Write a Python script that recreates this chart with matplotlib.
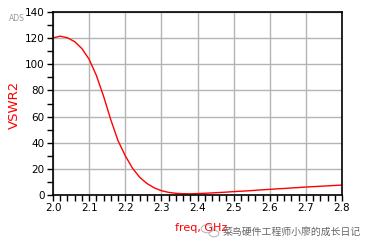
import matplotlib
matplotlib.use("Agg")
import matplotlib.pyplot as plt
from matplotlib.ticker import MultipleLocator
from matplotlib.patches import Circle

plt.rcParams['font.family'] = ['DejaVu Sans', 'Noto Sans CJK SC']

# frequency sweep (GHz) and VSWR
freq = [2.00, 2.02, 2.04, 2.06, 2.08, 2.10, 2.12, 2.14, 2.16, 2.18,
        2.20, 2.22, 2.24, 2.26, 2.28, 2.30, 2.32, 2.34, 2.36, 2.38,
        2.40, 2.42, 2.44, 2.46, 2.48, 2.50, 2.52, 2.54, 2.56, 2.58,
        2.60, 2.62, 2.64, 2.66, 2.68, 2.70, 2.72, 2.74, 2.76, 2.78, 2.80]
vswr2 = [120.2, 121.5, 120.3, 117.3, 112.0, 103.8, 91.5, 75.5, 57.5, 41.5,
         30.0, 20.5, 13.5, 8.8, 5.5, 3.3, 2.0, 1.3, 1.0, 0.9,
         1.1, 1.3, 1.6, 1.9, 2.2, 2.6, 2.9, 3.2, 3.6, 4.0,
         4.3, 4.7, 5.0, 5.4, 5.7, 6.1, 6.4, 6.7, 7.0, 7.3, 7.6]

fig = plt.figure(figsize=(3.72, 2.5), dpi=100, facecolor='white')
ax = fig.add_axes([0.1425, 0.22, 0.777, 0.732])

ax.plot(freq, vswr2, color='red', lw=1.0)

ax.set_xlim(2.0, 2.8)
ax.set_ylim(0, 140)
ax.xaxis.set_major_locator(MultipleLocator(0.1))
ax.xaxis.set_minor_locator(MultipleLocator(0.02))
ax.yaxis.set_major_locator(MultipleLocator(20))
ax.yaxis.set_minor_locator(MultipleLocator(10))
ax.tick_params(which='both', direction='out', length=4, width=1, color='black',
               labelsize=7.5, pad=2)
ax.grid(True, which='major', color='#b4b4b4', lw=1)
ax.set_axisbelow(True)
for s in ax.spines.values():
    s.set_color('black')
    s.set_linewidth(1.2)

# labels
fig.text(0.038, 0.58, 'VSWR2', color='red', fontsize=9.5, rotation=90,
         ha='center', va='center')
fig.text(0.025, 0.925, 'ADS', color='#999999', fontsize=5.5, ha='left', va='center')
fig.text(0.47, 0.088, 'freq, GHz', color='red', fontsize=8, ha='left', va='center')

# watermark (wechat-style icon + account name)
fig.patches.append(Circle((0.557, 0.085), 0.016, transform=fig.transFigure,
                          fill=False, ec='#bbbbbb', lw=0.8))
fig.patches.append(Circle((0.575, 0.066), 0.013, transform=fig.transFigure,
                          fill=False, ec='#bbbbbb', lw=0.8))
fig.text(0.598, 0.072, '菜鸟硬件工程师小廖的成长日记', color='#666666', fontsize=7.1,
         ha='left', va='center', family=['Noto Sans CJK SC', 'DejaVu Sans'])

fig.savefig('out.png', dpi=100)
